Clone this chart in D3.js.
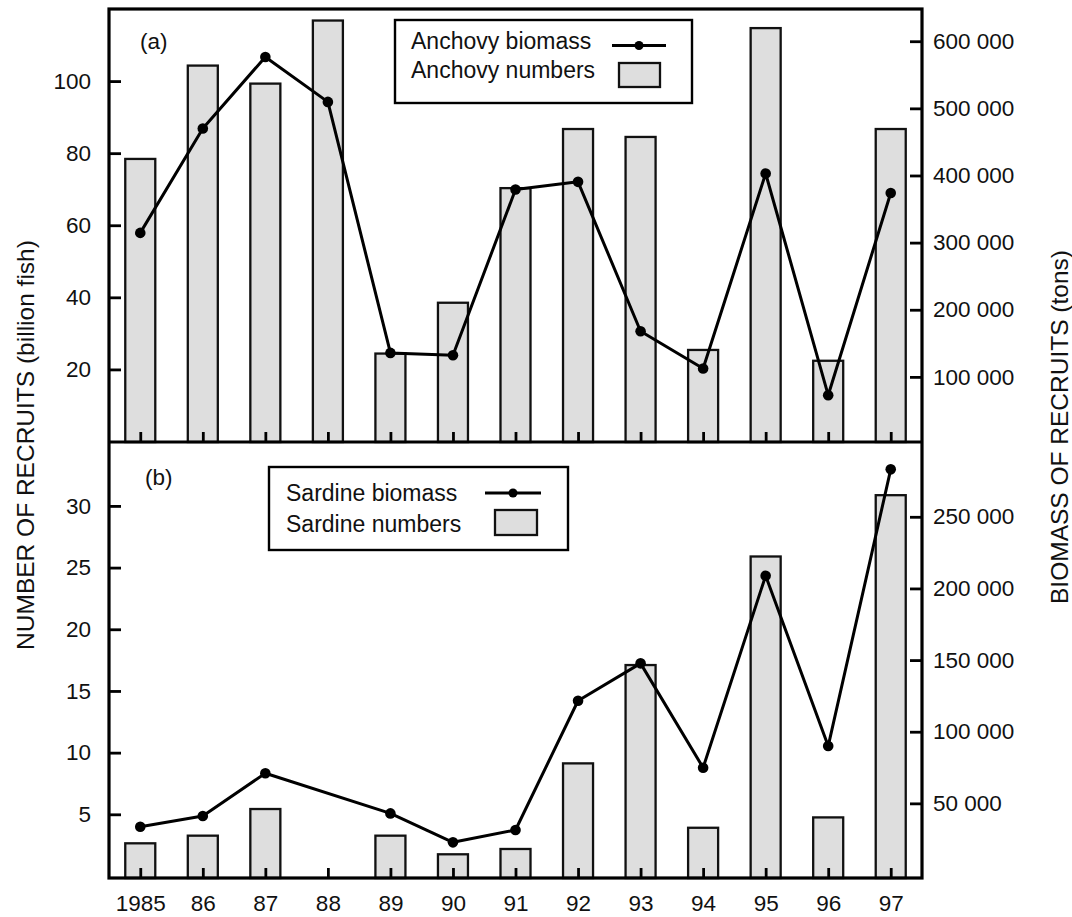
<!DOCTYPE html>
<html>
<head>
<meta charset="utf-8">
<script src="https://cdn.jsdelivr.net/npm/d3@7"></script>
<style>
  html, body { margin: 0; padding: 0; background: #ffffff; }
  svg { display: block; }
  text { font-family: "Liberation Sans", Arial, Helvetica, sans-serif; fill: #111; }
</style>
</head>
<body>
<svg id="chart" width="1072" height="917"></svg>
<script>
// ---------- data ----------
const years = ["1985","86","87","88","89","90","91","92","93","94","95","96","97"];
const anchovyNumbers = [78.4, 104.3, 99.3, 116.8, 24.4, 38.5, 70.3, 86.7, 84.5, 25.4, 114.7, 22.4, 86.7];
const anchovyBiomass = [314500, 470000, 576600, 509600, 135700, 132300, 379100, 390500, 168000, 112500, 403000, 72700, 374000];
const sardineNumbers = [2.65, 3.27, 5.43, null, 3.27, 1.76, 2.19, 9.13, 17.1, 3.91, 25.9, 4.75, 30.87];
const sardineBiomass = [33700, 41200, 71000, null, 43000, 22800, 31400, 121600, 147700, 74900, 208900, 90000, 283100];

const anchovyLeftTicks = [20, 40, 60, 80, 100];
const anchovyRightTicks = [100000, 200000, 300000, 400000, 500000, 600000];
const sardineLeftTicks = [5, 10, 15, 20, 25, 30];
const sardineRightTicks = [50000, 100000, 150000, 200000, 250000];

const panelLabels = ["(a)", "(b)"];
const legendA = ["Anchovy biomass", "Anchovy numbers"];
const legendB = ["Sardine biomass", "Sardine numbers"];
const leftTitle = "NUMBER OF RECRUITS (billion fish)";
const rightTitle = "BIOMASS OF RECRUITS (tons)";

// ---------- layout ----------
const L = 109, R = 922, T = 9, MID = 442, B = 878;
const svg = d3.select("#chart");
const fmt = d3.formatLocale({decimal: ".", thousands: " ", grouping: [3], currency: ["", ""]}).format(",d");

const x = d3.scalePoint().domain(years).range([L, R]).padding(0.5);
const barW = x.step() * 0.48;

const yA = d3.scaleLinear().domain([0, 120]).range([441.5, T]);
const yA2 = d3.scaleLinear().domain([0, 648000]).range([444, T]);
const yB = d3.scaleLinear().domain([0, 35.1]).range([876, MID + 1]);
const yB2 = d3.scaleLinear().domain([0, 301500]).range([875, MID + 1]);

function panel(nums, bios, yl, yr, bottom, leftTicks, rightTicks) {
  const g = svg.append("g");
  const numData = years.map((yv, i) => ({year: yv, v: nums[i]})).filter(d => d.v != null);
  const bioData = years.map((yv, i) => ({year: yv, v: bios[i]})).filter(d => d.v != null);

  g.selectAll("rect.bar").data(numData).join("rect")
    .attr("class", "bar")
    .attr("x", d => x(d.year) - barW / 2)
    .attr("y", d => yl(d.v))
    .attr("width", barW)
    .attr("height", d => bottom - yl(d.v))
    .attr("fill", "#dedede")
    .attr("stroke", "#111")
    .attr("stroke-width", 2.3);

  const line = d3.line().x(d => x(d.year)).y(d => yr(d.v));
  g.append("path").datum(bioData)
    .attr("d", line)
    .attr("fill", "none")
    .attr("stroke", "#000")
    .attr("stroke-width", 3)
    .attr("stroke-linejoin", "round");

  g.selectAll("circle.pt").data(bioData).join("circle")
    .attr("class", "pt")
    .attr("cx", d => x(d.year))
    .attr("cy", d => yr(d.v))
    .attr("r", 5.3)
    .attr("fill", "#000");

  // left axis (ticks inward)
  const ga = svg.append("g").attr("transform", `translate(${L},0)`)
    .call(d3.axisLeft(yl).tickValues(leftTicks).tickSizeInner(-12).tickSizeOuter(0).tickPadding(18));
  // right axis (ticks inward)
  const gb = svg.append("g").attr("transform", `translate(${R},0)`)
    .call(d3.axisRight(yr).tickValues(rightTicks).tickFormat(fmt).tickSizeInner(-12).tickSizeOuter(0).tickPadding(11));
  [ga, gb].forEach(s => {
    s.select(".domain").remove();
    s.selectAll(".tick line").attr("stroke", "#000").attr("stroke-width", 2.8);
    s.selectAll(".tick text").attr("font-size", 22.5).attr("fill", "#111");
    s.attr("font-family", null);
  });
}

panel(anchovyNumbers, anchovyBiomass, yA, yA2, MID, anchovyLeftTicks, anchovyRightTicks);
panel(sardineNumbers, sardineBiomass, yB, yB2, B, sardineLeftTicks, sardineRightTicks);

// x axes (ticks inward at bottom of each panel)
const gxTop = svg.append("g").attr("transform", `translate(0,${MID})`)
  .call(d3.axisBottom(x).tickSizeInner(-10).tickSizeOuter(0).tickFormat(() => ""));
const gxBot = svg.append("g").attr("transform", `translate(0,${B})`)
  .call(d3.axisBottom(x).tickSizeInner(-10).tickSizeOuter(0).tickPadding(17));
[gxTop, gxBot].forEach(s => {
  s.select(".domain").remove();
  s.attr("font-family", null);
  s.selectAll(".tick line").attr("stroke", "#000").attr("stroke-width", 2.8);
  s.selectAll(".tick text").attr("font-size", 22.5).attr("fill", "#111");
});

// frame
svg.append("rect").attr("x", L).attr("y", T).attr("width", R - L).attr("height", B - T)
  .attr("fill", "none").attr("stroke", "#000").attr("stroke-width", 3.2);
svg.append("line").attr("x1", L).attr("x2", R).attr("y1", MID).attr("y2", MID)
  .attr("stroke", "#000").attr("stroke-width", 3.2);

// panel labels
svg.append("text").attr("x", 140).attr("y", 49).attr("font-size", 22.5).text(panelLabels[0]);
svg.append("text").attr("x", 145).attr("y", 485).attr("font-size", 22.5).text(panelLabels[1]);

// legends
function legend(bx, by, bw, bh, labels, tx, base1, base2, lx1, lx2, ly, sx, sy, sw, sh) {
  const g = svg.append("g");
  g.append("rect").attr("x", bx).attr("y", by).attr("width", bw).attr("height", bh)
    .attr("fill", "#fff").attr("stroke", "#000").attr("stroke-width", 2.4);
  g.append("text").attr("x", tx).attr("y", base1).attr("font-size", 23).text(labels[0]);
  g.append("text").attr("x", tx).attr("y", base2).attr("font-size", 23).text(labels[1]);
  g.append("line").attr("x1", lx1).attr("x2", lx2).attr("y1", ly).attr("y2", ly)
    .attr("stroke", "#000").attr("stroke-width", 3);
  g.append("circle").attr("cx", (lx1 + lx2) / 2).attr("cy", ly).attr("r", 4.5).attr("fill", "#000");
  g.append("rect").attr("x", sx).attr("y", sy).attr("width", sw).attr("height", sh)
    .attr("fill", "#dedede").attr("stroke", "#111").attr("stroke-width", 2.3);
}
legend(395, 20, 297, 83, legendA, 411, 49, 78, 612, 666, 45.5, 619, 63, 41, 24);
legend(269, 467, 299, 83, legendB, 286, 501, 532, 485, 541, 493, 495, 510, 42, 25);

// axis titles
svg.append("text").attr("transform", "translate(34,445) rotate(-90)")
  .attr("text-anchor", "middle").attr("font-size", 24.5).attr("fill", "#222").text(leftTitle);
svg.append("text").attr("transform", "translate(1068,427) rotate(-90)")
  .attr("text-anchor", "middle").attr("font-size", 24.5).attr("fill", "#222").text(rightTitle);
</script>
</body>
</html>
